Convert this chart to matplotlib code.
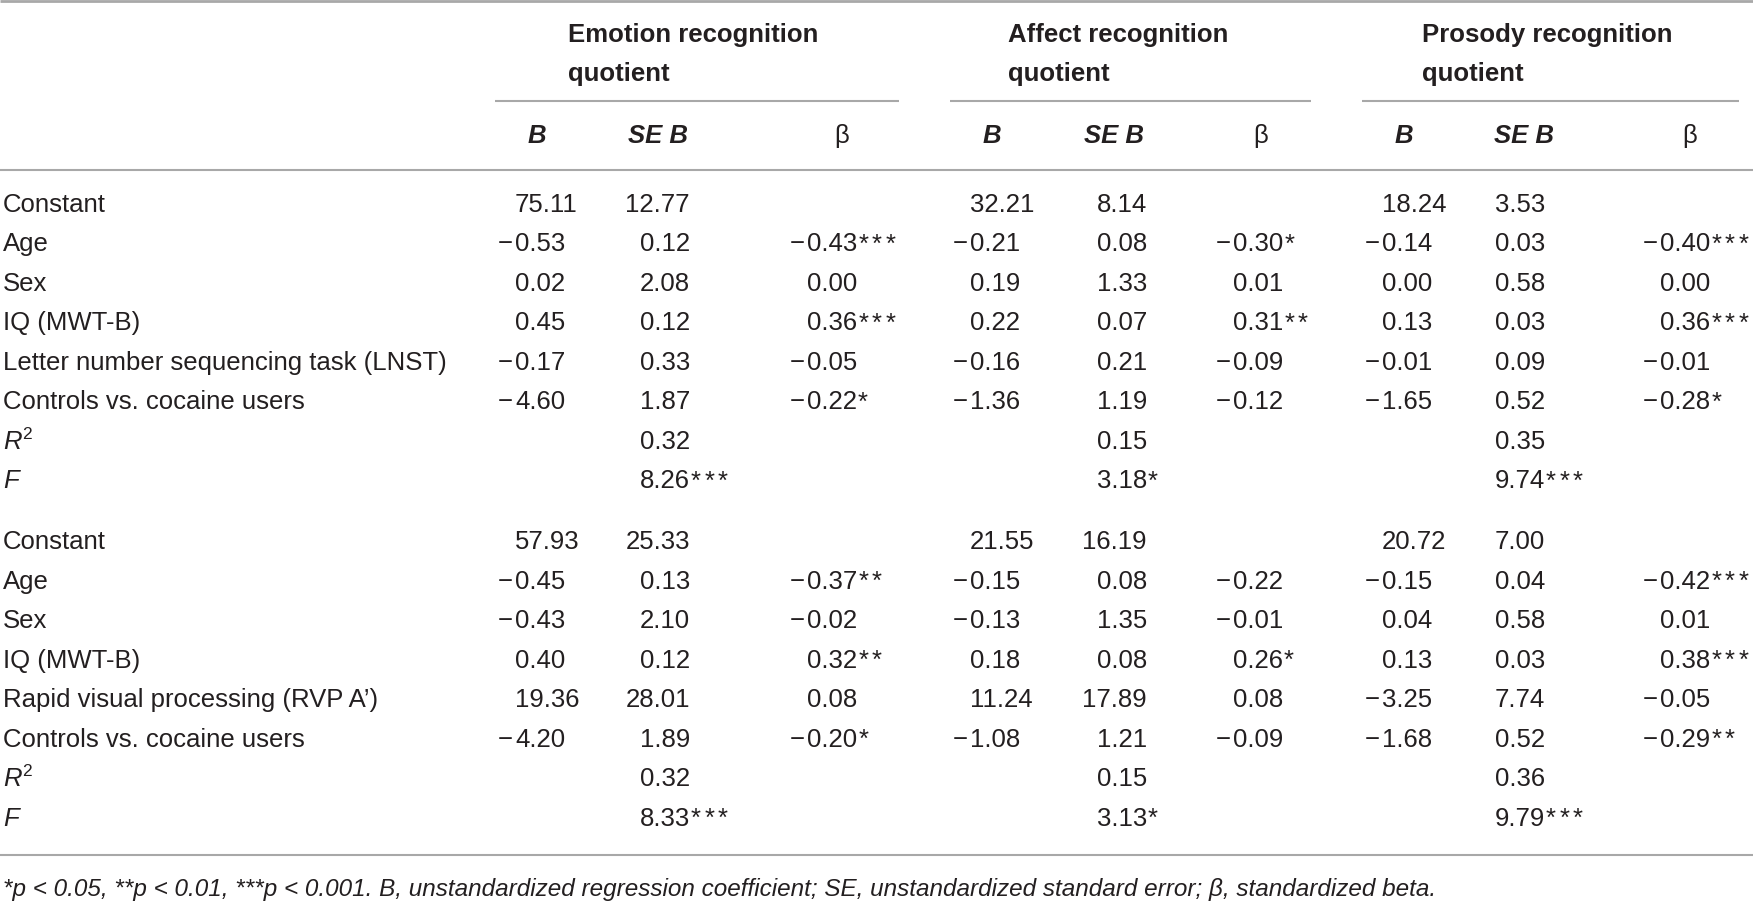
import matplotlib
matplotlib.use("Agg")
import matplotlib.pyplot as plt
from matplotlib import font_manager

# ---- table values ----
groups = ["Emotion recognition", "Affect recognition", "Prosody recognition"]
sub_heads = ["B", "SE B", "β"]

labels_1 = ["Constant", "Age", "Sex", "IQ (MWT-B)",
            "Letter number sequencing task (LNST)", "Controls vs. cocaine users"]
labels_2 = ["Constant", "Age", "Sex", "IQ (MWT-B)",
            "Rapid visual processing (RVP A’)", "Controls vs. cocaine users"]

# block 1 rows then block 2 rows
emotion_b = [75.11, -0.53, 0.02, 0.45, -0.17, -4.60,
             57.93, -0.45, -0.43, 0.40, 19.36, -4.20]
emotion_se = [12.77, 0.12, 2.08, 0.12, 0.33, 1.87,
              25.33, 0.13, 2.10, 0.12, 28.01, 1.89]
emotion_beta = [None, -0.43, 0.00, 0.36, -0.05, -0.22,
                None, -0.37, -0.02, 0.32, 0.08, -0.20]
emotion_beta_sig = ["", "***", "", "***", "", "*",
                    "", "**", "", "**", "", "*"]
emotion_r2 = [0.32, 0.32]
emotion_f = [8.26, 8.33]
emotion_f_sig = ["***", "***"]

affect_b = [32.21, -0.21, 0.19, 0.22, -0.16, -1.36,
            21.55, -0.15, -0.13, 0.18, 11.24, -1.08]
affect_se = [8.14, 0.08, 1.33, 0.07, 0.21, 1.19,
             16.19, 0.08, 1.35, 0.08, 17.89, 1.21]
affect_beta = [None, -0.30, 0.01, 0.31, -0.09, -0.12,
               None, -0.22, -0.01, 0.26, 0.08, -0.09]
affect_beta_sig = ["", "*", "", "**", "", "",
                   "", "", "", "*", "", ""]
affect_r2 = [0.15, 0.15]
affect_f = [3.18, 3.13]
affect_f_sig = ["*", "*"]

prosody_b = [18.24, -0.14, 0.00, 0.13, -0.01, -1.65,
             20.72, -0.15, 0.04, 0.13, -3.25, -1.68]
prosody_se = [3.53, 0.03, 0.58, 0.03, 0.09, 0.52,
              7.00, 0.04, 0.58, 0.03, 7.74, 0.52]
prosody_beta = [None, -0.40, 0.00, 0.36, -0.01, -0.28,
                None, -0.42, 0.01, 0.38, -0.05, -0.29]
prosody_beta_sig = ["", "***", "", "***", "", "*",
                    "", "***", "", "***", "", "**"]
prosody_r2 = [0.35, 0.36]
prosody_f = [9.74, 9.79]
prosody_f_sig = ["***", "***"]

footnote = ("*p < 0.05, **p < 0.01, ***p < 0.001. B, unstandardized regression "
            "coefficient; SE, unstandardized standard error; β, standardized beta.")

# ---- layout ----
W, H = 1753, 903
FONT = ["Liberation Sans", "DejaVu Sans"]
names = {f.name for f in font_manager.fontManager.ttflist}
NOTE_FONT = ["Liberation Sans Narrow"] + FONT if "Liberation Sans Narrow" in names else FONT
INK = "#231f20"
RULE = "#a8a8a8"
FS = 18.5

plt.rcParams["font.family"] = FONT

fig = plt.figure(figsize=(W / 100, H / 100), dpi=100)
ax = fig.add_axes([0, 0, 1, 1])
ax.set_xlim(0, W)
ax.set_ylim(H, 0)
ax.axis("off")
renderer = fig.canvas.get_renderer()


def txt(x, y, s, **kw):
    kw.setdefault("fontsize", FS)
    kw.setdefault("color", INK)
    kw.setdefault("va", "baseline")
    return ax.text(x, y, s, **kw)


def width(t):
    return t.get_window_extent(renderer).width


def put_num(x, y, value, sig="", align="left"):
    body = f"{abs(value):.2f}"
    if align == "left":
        t = txt(x, y, body, ha="left")
        if value < 0:
            txt(x - 2, y, "−", ha="right")
        end = x + width(t)
    else:
        txt(x, y, body, ha="right")
        end = x
    for i in range(len(sig)):
        txt(end + 1 + i * 13.5, y, "*", ha="left")


# rules
ax.plot([0, W], [1.5, 1.5], color=RULE, lw=2.0, solid_capstyle="butt")
ax.plot([0, W], [171, 171], color=RULE, lw=1.5, solid_capstyle="butt")
ax.plot([0, W], [856, 856], color=RULE, lw=1.5, solid_capstyle="butt")
underlines = [(495, 899), (950, 1311), (1362, 1739)]
for x0, x1 in underlines:
    ax.plot([x0, x1], [102, 102], color=RULE, lw=1.5, solid_capstyle="butt")

# column anchors: B left edge, SE right edge, beta left edge
b_x = [515, 970, 1382]
se_x = [690, 1147, 1545]
beta_x = [807, 1233, 1660]
head_x = [568, 1008, 1422]
sub_x = [(537, 658, 842), (992, 1114, 1261), (1404, 1524, 1690)]

for g, name in enumerate(groups):
    txt(head_x[g], 42, name, fontweight="bold")
    txt(head_x[g], 81, "quotient", fontweight="bold")
    for s, cx in zip(sub_heads, sub_x[g]):
        if s == "β":
            txt(cx, 143, s, ha="center")
        else:
            txt(cx, 143, s, ha="center", fontweight="bold", style="italic")

block_top = [212, 549.5]
step = 39.5

cols = [
    (emotion_b, emotion_se, emotion_beta, emotion_beta_sig, emotion_r2, emotion_f, emotion_f_sig),
    (affect_b, affect_se, affect_beta, affect_beta_sig, affect_r2, affect_f, affect_f_sig),
    (prosody_b, prosody_se, prosody_beta, prosody_beta_sig, prosody_r2, prosody_f, prosody_f_sig),
]

for blk, labels in enumerate([labels_1, labels_2]):
    y0 = block_top[blk]
    for r, lab in enumerate(labels):
        txt(3, y0 + r * step, lab)
    yr2 = y0 + 6 * step
    yf = y0 + 7 * step
    tr = txt(3, yr2, "R", style="italic")
    txt(3 + width(tr) + 0.5, yr2 - 10, "2", fontsize=12.5)
    txt(3, yf, "F", style="italic")

    for g, (bv, sev, betav, betas, r2v, fv, fs) in enumerate(cols):
        for r in range(6):
            i = blk * 6 + r
            y = y0 + r * step
            put_num(b_x[g], y, bv[i])
            put_num(se_x[g], y, sev[i], align="right")
            if betav[i] is not None:
                put_num(beta_x[g], y, betav[i], betas[i])
        put_num(se_x[g], yr2, r2v[blk], align="right")
        put_num(se_x[g], yf, fv[blk], fs[blk], align="right")

# footnote, fitted to the width it has in the source
note = txt(3, 896, footnote, fontsize=15, style="italic", family=NOTE_FONT)
note.set_fontsize(15 * 1433 / width(note))

fig.savefig("out.png", dpi=100, facecolor="white")
